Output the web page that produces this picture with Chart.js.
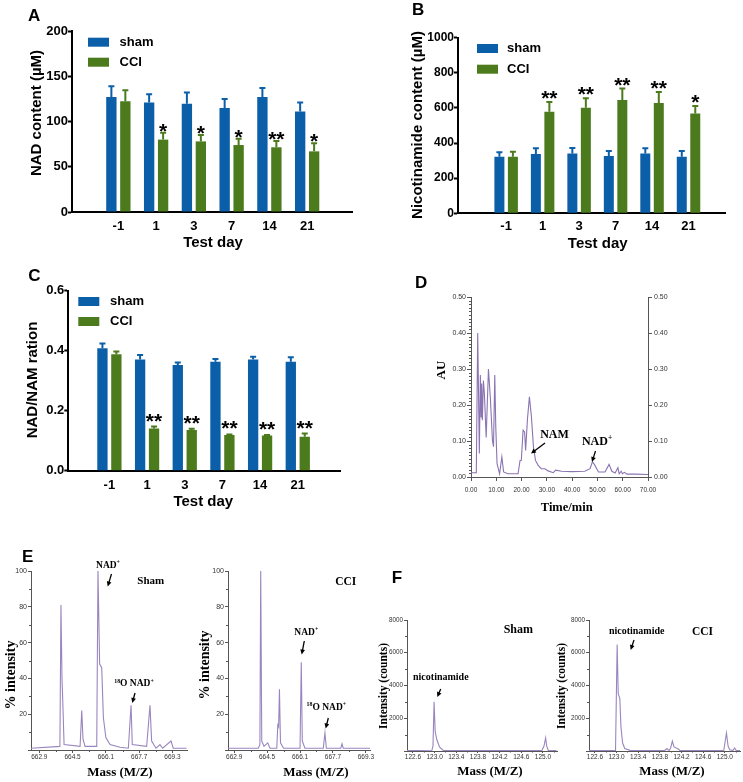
<!DOCTYPE html>
<html>
<head>
<meta charset="utf-8">
<script src="https://cdn.jsdelivr.net/npm/chart.js@4.4.1/dist/chart.umd.min.js"></script>
<style>
  html, body { margin: 0; padding: 0; background: #fff; }
  #page { position: relative; width: 743px; height: 782px; overflow: hidden; background: #fff; }
  #page canvas { position: absolute; left: 0; top: 0; }
</style>
</head>
<body>
<div id="page">
  <canvas id="chartA" width="743" height="782"></canvas>
  <canvas id="chartB" width="743" height="782"></canvas>
  <canvas id="chartC" width="743" height="782"></canvas>
  <canvas id="chartD" width="743" height="782"></canvas>
  <canvas id="chartE1" width="743" height="782"></canvas>
  <canvas id="chartE2" width="743" height="782"></canvas>
  <canvas id="chartF1" width="743" height="782"></canvas>
  <canvas id="chartF2" width="743" height="782"></canvas>
</div>
<script>
// ================= DATA =================

const testDays = ['-1', '1', '3', '7', '14', '21'];

// A: NAD content (uM), mean and error
const nadSham = [127, 121, 119.5, 115, 127, 111];
const nadShamErr = [12, 9, 12.5, 10, 10, 10];
const nadCci = [122.5, 80, 78, 74, 71.5, 67];
const nadCciErr = [12, 7.5, 7, 7, 7, 9];
const nadStars = ['', '*', '*', '*', '**', '*'];

// B: nicotinamide content (uM)
const namSham = [322, 338, 341, 326, 341, 322];
const namShamErr = [25, 32, 31, 29, 29, 33];
const namCci = [322, 579, 601, 645, 628, 569];
const namCciErr = [29, 55, 54, 65, 63, 42];
const namStars = ['', '**', '**', '**', '**', '*'];

// C: NAD/NAM ratio
const ratioSham = [0.408, 0.371, 0.352, 0.363, 0.371, 0.363];
const ratioShamErr = [0.016, 0.015, 0.009, 0.009, 0.009, 0.015];
const ratioCci = [0.388, 0.141, 0.136, 0.119, 0.117, 0.113];
const ratioCciErr = [0.009, 0.006, 0.004, 0.002, 0.002, 0.011];
const ratioStars = ['', '**', '**', '**', '**', '**'];

// D: HPLC chromatogram
const hplcTime = [
  0, 2.1, 2.65, 3.3, 3.7, 4.0, 4.2, 4.5, 4.9, 5.3,
  6.0, 6.9, 7.7, 8.5, 8.9, 9.4, 9.8, 10.3, 11.3, 12.2,
  12.9, 14.6, 18.6, 19.4, 19.9, 20.6, 21.2, 21.6, 22.3, 23.1,
  23.9, 24.7, 25.5, 26.5, 27.8, 29.2, 30.5, 32.5, 33.5, 35.8,
  39.8, 45.0, 47.1, 48.0, 48.8, 50.4, 53.0, 54.6, 55.7, 57.0,
  58.1, 58.6, 59.4, 59.9, 60.7, 61.7, 65.0, 70.0
];
const hplcAU = [
  0.012, 0.012, 0.400, 0.065, 0.283, 0.167, 0.260, 0.158, 0.268, 0.232,
  0.110, 0.300, 0.214, 0.100, 0.084, 0.283, 0.139, 0.037, 0.009, 0.056,
  0.014, 0.009, 0.009, 0.046, 0.046, 0.130, 0.125, 0.074, 0.158, 0.223,
  0.167, 0.084, 0.046, 0.033, 0.023, 0.023, 0.017, 0.012, 0.019, 0.016,
  0.015, 0.016, 0.023, 0.042, 0.035, 0.014, 0.014, 0.035, 0.016, 0.011,
  0.026, 0.009, 0.016, 0.009, 0.013, 0.008, 0.008, 0.007
];
const timeTicks = [0, 10, 20, 30, 40, 50, 60, 70];

// E: NAD+ mass spectra (% intensity)
const msTicks = [662.9, 664.5, 666.1, 667.7, 669.3];
const nadMsShamMz = [
  662.5, 663.89, 663.94, 663.99, 664.02, 664.09, 664.86, 664.94, 665.0, 665.1,
  665.66, 665.72, 665.8, 665.9, 665.98, 666.1, 666.3, 666.78, 667.18, 667.31,
  667.37, 668.06, 668.22, 668.3, 668.51, 668.7, 668.83, 669.23, 669.34, 669.98
];
const nadMsShamInt = [
  1, 2, 81, 40, 30, 3, 2, 22, 6, 2,
  2, 100, 48, 46, 18, 7, 3, 1.5, 1, 25,
  3, 2, 25, 5, 1, 3, 1, 5, 1, 1
];
const nadMsCciMz = [
  662.6, 664.07, 664.15, 664.19, 664.24, 664.35, 664.53, 664.64, 664.97, 665.02,
  665.06, 665.1, 665.15, 665.3, 666.1, 666.16, 666.21, 666.34, 667.23, 667.31,
  667.38, 668.08, 668.14, 668.2, 669.5
];
const nadMsCciInt = [
  1, 1, 3, 100, 5, 2, 4, 1, 1, 14,
  13, 34, 4, 1, 1, 49, 5, 1, 1, 9.5,
  1, 1, 3.5, 1, 1
];

// F: nicotinamide mass spectra (counts)
const namMsTicks = [122.6, 123.0, 123.4, 123.8, 124.2, 124.6, 125.0];
const namMsShamMz = [122.49, 122.95, 122.97, 122.99, 123.01, 123.04, 123.09, 123.16, 124.98, 125.02, 125.05, 125.07, 125.1, 125.25];
const namMsShamInt = [20, 50, 300, 3000, 1200, 700, 250, 30, 30, 300, 800, 300, 30, 20];
const namMsCciMz = [
  122.49, 122.98, 123.01, 123.03, 123.06, 123.08, 123.11, 123.15, 123.25, 123.89,
  123.93, 123.97, 124.0, 124.03, 124.06, 124.14, 124.17, 124.98, 125.03, 125.06,
  125.09, 125.15, 125.18, 125.21, 125.28
];
const namMsCciInt = [
  20, 30, 6500, 3500, 3200, 1500, 500, 150, 40, 30,
  150, 20, 200, 600, 250, 120, 30, 30, 1100, 300,
  80, 30, 180, 30, 20
];

// ================= STYLE =================

const PAGE_W = 743, PAGE_H = 782;
const SANS = '"Liberation Sans", Arial, sans-serif';
const SERIF = '"Liberation Serif", "Times New Roman", serif';
const BLUE = '#0b5ea8';
const GREEN = '#4b7b1c';
const AXIS = '#555';
const TRACE = '#9a86bf';

Chart.defaults.font.family = SANS;
Chart.defaults.color = '#000';

// chart area (page px) -> layout padding, with fixed axis box sizes
function frame(area, yW, xH, rW) {
  return {
    left: area.l - yW,
    top: area.t,
    right: PAGE_W - area.r - (rW || 0),
    bottom: PAGE_H - area.b - xH
  };
}

// ================= PLUGINS =================

function drawRich(ctx, parts, size, family, align) {
  const fontOf = sup => 'bold ' + (sup ? size * 0.62 : size) + 'px ' + family;
  let total = 0;
  parts.forEach(p => { ctx.font = fontOf(p[1]); total += ctx.measureText(p[0]).width; });
  let x = align === 'left' ? 0 : -total / 2;
  ctx.textAlign = 'left';
  ctx.textBaseline = 'alphabetic';
  const base = size * 0.35;
  parts.forEach(p => {
    ctx.font = fontOf(p[1]);
    ctx.fillText(p[0], x, p[1] ? base - size * 0.4 : base);
    x += ctx.measureText(p[0]).width;
  });
}

const errorBarPlugin = {
  id: 'errorBars',
  afterDatasetsDraw(chart, args, opts) {
    const ctx = chart.ctx;
    const yScale = chart.scales.y;
    const starLift = opts.starLift || 0;
    chart.data.datasets.forEach((ds, di) => {
      const meta = chart.getDatasetMeta(di);
      ctx.save();
      ctx.strokeStyle = ds.backgroundColor;
      ctx.lineWidth = 2;
      meta.data.forEach((bar, i) => {
        const top = yScale.getPixelForValue(ds.data[i].y + ds.err[i]);
        ctx.beginPath();
        ctx.moveTo(bar.x, bar.y);
        ctx.lineTo(bar.x, top);
        ctx.moveTo(bar.x - 3, top);
        ctx.lineTo(bar.x + 3, top);
        ctx.stroke();
        if (ds.stars && ds.stars[i]) {
          ctx.fillStyle = '#000';
          ctx.font = 'bold 21px ' + SANS;
          ctx.textAlign = 'center';
          ctx.textBaseline = 'alphabetic';
          ctx.fillText(ds.stars[i], bar.x, top + 5 - starLift);
        }
      });
      ctx.restore();
    });
  }
};

const decorPlugin = {
  id: 'decor',
  afterDraw(chart, args, opts) {
    const ctx = chart.ctx;
    // minor ticks
    (opts.minor || []).forEach(m => {
      const s = chart.scales[m.scale];
      ctx.save();
      ctx.strokeStyle = AXIS;
      ctx.lineWidth = 1;
      ctx.beginPath();
      m.values.forEach(v => {
        const p = Math.round(s.getPixelForValue(v)) + 0.5;
        if (s.isHorizontal()) {
          ctx.moveTo(p, s.top); ctx.lineTo(p, s.top + m.len);
        } else {
          ctx.moveTo(s.right - m.len, p); ctx.lineTo(s.right, p);
        }
      });
      ctx.stroke();
      ctx.restore();
    });
    // legend boxes
    if (opts.legend) {
      const lg = opts.legend;
      chart.data.datasets.forEach((ds, i) => {
        const cy = lg.y + i * lg.dy;
        ctx.fillStyle = ds.backgroundColor;
        ctx.fillRect(lg.x, cy - 4.5, 21, 9);
        ctx.fillStyle = '#000';
        ctx.font = 'bold 13px ' + SANS;
        ctx.textAlign = 'left';
        ctx.textBaseline = 'middle';
        ctx.fillText(ds.label, lg.x + lg.gap, cy);
      });
    }
    // arrows
    (opts.arrows || []).forEach(a => {
      const [x1, y1, x2, y2] = a;
      const ang = Math.atan2(y2 - y1, x2 - x1);
      ctx.save();
      ctx.strokeStyle = '#000';
      ctx.fillStyle = '#000';
      ctx.lineWidth = 1.3;
      ctx.beginPath();
      ctx.moveTo(x1, y1);
      ctx.lineTo(x2 - 3 * Math.cos(ang), y2 - 3 * Math.sin(ang));
      ctx.stroke();
      ctx.beginPath();
      ctx.moveTo(x2, y2);
      ctx.lineTo(x2 - 5.5 * Math.cos(ang - 0.45), y2 - 5.5 * Math.sin(ang - 0.45));
      ctx.lineTo(x2 - 5.5 * Math.cos(ang + 0.45), y2 - 5.5 * Math.sin(ang + 0.45));
      ctx.closePath();
      ctx.fill();
      ctx.restore();
    });
    // texts
    (opts.texts || []).forEach(t => {
      ctx.save();
      ctx.fillStyle = '#000';
      ctx.translate(t.x, t.y);
      if (t.rot) ctx.rotate(t.rot);
      drawRich(ctx, t.parts || [[t.t]], t.size, t.family || SANS, t.align);
      ctx.restore();
    });
  }
};

// ================= BAR PANELS =================

function barPanel(id, o) {
  return new Chart(document.getElementById(id), {
    type: 'bar',
    data: {
      datasets: [
        { label: 'sham', data: o.sham.map((v, i) => ({ x: i, y: v })), backgroundColor: BLUE, err: o.shamErr },
        { label: 'CCI', data: o.cci.map((v, i) => ({ x: i, y: v })), backgroundColor: GREEN, err: o.cciErr, stars: o.stars }
      ]
    },
    options: {
      responsive: false,
      animation: false,
      events: [],
      layout: { padding: frame(o.area, 60, 40) },
      datasets: { bar: { categoryPercentage: 0.74, barPercentage: 0.74 } },
      scales: {
        x: {
          type: 'linear', min: o.xMin, max: o.xMax,
          afterFit: s => { s.height = 40; },
          afterBuildTicks: s => { s.ticks = testDays.map((d, i) => ({ value: i })); },
          grid: { display: false, drawTicks: false },
          border: { color: '#000', width: 2 },
          ticks: {
            callback: v => testDays[v],
            font: { size: 13, weight: 'bold' }, color: '#000',
            padding: o.xPad, autoSkip: false, maxRotation: 0
          }
        },
        y: {
          min: 0, max: o.yMax,
          afterFit: s => { s.width = 60; },
          grid: { drawOnChartArea: false, tickLength: 4, tickWidth: 2, tickColor: '#000' },
          border: { color: '#000', width: 2 },
          ticks: {
            stepSize: o.yStep, callback: o.yFmt,
            font: { size: o.yFont || 13, weight: 'bold' }, color: '#000', padding: 0
          }
        }
      },
      plugins: {
        legend: { display: false },
        tooltip: { enabled: false },
        errorBars: { starLift: o.starLift || 0 },
        decor: { legend: o.legend, texts: o.texts }
      }
    },
    plugins: [errorBarPlugin, decorPlugin]
  });
}

barPanel('chartA', {
  sham: nadSham, shamErr: nadShamErr, cci: nadCci, cciErr: nadCciErr, stars: nadStars,
  area: { l: 72, r: 352, t: 31, b: 212 }, xMin: -0.61, xMax: 5.57, xPad: 7,
  yMax: 200, yStep: 50, yFmt: v => v,
  legend: { x: 88, y: 42.2, dy: 20, gap: 31.5 },
  texts: [
    { t: 'A', x: 28, y: 15.5, size: 17, align: 'left' },
    { t: 'Test day', x: 213, y: 242, size: 15 },
    { t: 'NAD content (\u00b5M)', x: 35.5, y: 113, size: 15, rot: -Math.PI / 2 }
  ]
});

barPanel('chartB', {
  sham: namSham, shamErr: namShamErr, cci: namCci, cciErr: namCciErr, stars: namStars,
  area: { l: 458, r: 725, t: 37.7, b: 213.3 }, xMin: -0.71, xMax: 5.39, xPad: 5.6,
  yMax: 1000, yStep: 200, yFmt: v => v, yFont: 12, starLift: 2,
  legend: { x: 477, y: 48.5, dy: 20.7, gap: 30 },
  texts: [
    { t: 'B', x: 412, y: 9.5, size: 17, align: 'left' },
    { t: 'Test day', x: 597.7, y: 242.7, size: 15 },
    { t: 'Nicotinamide content (\u00b5M)', x: 417, y: 125, size: 15, rot: -Math.PI / 2 }
  ]
});

barPanel('chartC', {
  sham: ratioSham, shamErr: ratioShamErr, cci: ratioCci, cciErr: ratioCciErr, stars: ratioStars,
  area: { l: 68.3, r: 340, t: 290.7, b: 470.7 }, xMin: -0.49, xMax: 5.52, xPad: 6.5,
  yMax: 0.6, yStep: 0.2, yFmt: v => v.toFixed(1), starLift: 4,
  legend: { x: 78.3, y: 301.5, dy: 20, gap: 31.7 },
  texts: [
    { t: 'C', x: 28.3, y: 274.7, size: 17, align: 'left' },
    { t: 'Test day', x: 203.3, y: 500.7, size: 15 },
    { t: 'NAD/NAM ration', x: 31.7, y: 380, size: 15, rot: -Math.PI / 2 }
  ]
});

// ================= TRACE PANELS =================

function tracePanel(id, o) {
  const scales = {
    x: {
      type: 'linear', min: o.xMin, max: o.xMax,
      afterFit: s => { s.height = 30; },
      afterBuildTicks: s => { s.ticks = o.xTicks.filter(v => v >= s.min && v <= s.max).map(v => ({ value: v })); },
      grid: { drawOnChartArea: false, tickLength: o.xTl, tickWidth: 1, tickColor: AXIS },
      border: { color: AXIS, width: 1 },
      ticks: { callback: o.xFmt, font: { size: 6.5 }, color: '#333', padding: o.xPad, autoSkip: false, maxRotation: 0 }
    },
    y: {
      min: 0, max: o.yMax,
      afterFit: s => { s.width = 25; },
      grid: { drawOnChartArea: false, tickLength: o.yTl, tickWidth: 1, tickColor: AXIS },
      border: { color: AXIS, width: 1 },
      ticks: { stepSize: o.yStep, callback: o.yFmt, font: { size: o.yFont || 7 }, color: '#333', padding: 1 }
    }
  };
  if (o.rightAxis) {
    scales.y2 = {
      position: 'right', min: 0, max: o.yMax,
      afterFit: s => { s.width = 25; },
      grid: { drawOnChartArea: false, tickLength: 4, tickWidth: 1, tickColor: AXIS },
      border: { color: AXIS, width: 1 },
      ticks: { stepSize: o.yStep, callback: o.yFmt, font: { size: 7 }, color: '#333', padding: 2 }
    };
  }
  return new Chart(document.getElementById(id), {
    type: 'line',
    data: {
      datasets: [{
        data: o.xs.map((x, i) => ({ x: x, y: o.ys[i] })),
        borderColor: o.color || TRACE, borderWidth: 1.1,
        pointRadius: 0, tension: 0, fill: false
      }]
    },
    options: {
      responsive: false,
      animation: false,
      events: [],
      layout: { padding: frame(o.area, 25, 30, o.rightAxis ? 25 : 0) },
      scales: scales,
      plugins: {
        legend: { display: false },
        tooltip: { enabled: false },
        decor: { minor: o.minor, arrows: o.arrows, texts: o.texts }
      }
    },
    plugins: [decorPlugin]
  });
}

function steps(from, to, step) {
  const out = [];
  for (let v = from; v <= to + 1e-9; v += step) out.push(+v.toFixed(4));
  return out;
}

const NADP = [['NAD'], ['+', 1]];
const O18NADP = [['18', 1], ['O NAD'], ['+', 1]];

tracePanel('chartD', {
  xs: hplcTime, ys: hplcAU, color: '#8a74b2',
  area: { l: 471, r: 648, t: 297, b: 477 }, xMin: 0, xMax: 70,
  xTicks: timeTicks, xFmt: v => v.toFixed(2), xTl: 4, xPad: 5,
  yMax: 0.5, yStep: 0.1, yFmt: v => v.toFixed(2), yTl: 4, rightAxis: true,
  minor: [{ scale: 'y', values: steps(0, 0.5, 0.01), len: 2 }],
  arrows: [[545, 443, 531, 453.5], [595.5, 451, 592, 462]],
  texts: [
    { t: 'D', x: 415, y: 282, size: 17, align: 'left' },
    { t: 'AU', x: 440, y: 370, size: 13, family: SERIF, rot: -Math.PI / 2 },
    { t: 'Time/min', x: 566.7, y: 506.7, size: 12.5, family: SERIF },
    { t: 'NAM', x: 554.5, y: 433.8, size: 12, family: SERIF },
    { parts: NADP, x: 597, y: 440.5, size: 12, family: SERIF }
  ]
});

tracePanel('chartE1', {
  xs: nadMsShamMz, ys: nadMsShamInt,
  area: { l: 31, r: 187, t: 571, b: 750 }, xMin: 662.5, xMax: 670.0,
  xTicks: msTicks, xFmt: v => v.toFixed(1), xTl: 3, xPad: 0,
  yMax: 100, yStep: 20, yFmt: v => (v ? v : ''), yTl: 3,
  minor: [{ scale: 'y', values: steps(10, 90, 20), len: 2 }, { scale: 'x', values: steps(663.7, 669.9, 1.6), len: 2 }],
  arrows: [[111.5, 574, 107.7, 586.5], [135, 693, 132.3, 703]],
  texts: [
    { t: 'E', x: 22, y: 556, size: 17, align: 'left' },
    { t: '% intensity', x: 10, y: 675, size: 14, family: SERIF, rot: -Math.PI / 2 },
    { t: 'Mass (M/Z)', x: 120, y: 771.7, size: 13, family: SERIF },
    { parts: NADP, x: 108, y: 564.5, size: 9.5, family: SERIF },
    { t: 'Sham', x: 150.8, y: 580.5, size: 11, family: SERIF },
    { parts: O18NADP, x: 134, y: 683, size: 9.5, family: SERIF }
  ]
});

tracePanel('chartE2', {
  xs: nadMsCciMz, ys: nadMsCciInt,
  area: { l: 228, r: 370, t: 571, b: 750 }, xMin: 662.6, xMax: 669.5,
  xTicks: msTicks, xFmt: v => v.toFixed(1), xTl: 3, xPad: 0,
  yMax: 100, yStep: 20, yFmt: v => (v ? v : ''), yTl: 3,
  minor: [{ scale: 'y', values: steps(10, 90, 20), len: 2 }, { scale: 'x', values: steps(663.7, 669.4, 1.6), len: 2 }],
  arrows: [[304.3, 641, 301.7, 654.5], [328.3, 718, 325.7, 728.5]],
  texts: [
    { t: '% intensity', x: 204, y: 665, size: 14, family: SERIF, rot: -Math.PI / 2 },
    { t: 'Mass (M/Z)', x: 316, y: 771, size: 13, family: SERIF },
    { t: 'CCI', x: 345.8, y: 580.5, size: 11.5, family: SERIF },
    { parts: NADP, x: 306.3, y: 631.7, size: 9.5, family: SERIF },
    { parts: O18NADP, x: 326.3, y: 706.3, size: 9.5, family: SERIF }
  ]
});

tracePanel('chartF1', {
  xs: namMsShamMz, ys: namMsShamInt,
  area: { l: 407, r: 557, t: 620, b: 751 }, xMin: 122.49, xMax: 125.26,
  xTicks: namMsTicks, xFmt: v => v.toFixed(1), xTl: 2, xPad: 0,
  yMax: 8000, yStep: 2000, yFmt: v => (v ? v : ''), yTl: 3, yFont: 6.3,
  minor: [{ scale: 'y', values: steps(1000, 7000, 2000), len: 2 }, { scale: 'x', values: steps(122.8, 125.2, 0.4), len: 1.5 }],
  arrows: [[440.7, 689, 437.3, 697]],
  texts: [
    { t: 'F', x: 391.7, y: 576.7, size: 17, align: 'left' },
    { t: 'Intensity (counts)', x: 383, y: 686, size: 11.5, family: SERIF, rot: -Math.PI / 2 },
    { t: 'Mass (M/Z)', x: 490, y: 770, size: 13, family: SERIF },
    { t: 'Sham', x: 518.3, y: 628.3, size: 12, family: SERIF },
    { t: 'nicotinamide', x: 440.8, y: 676.7, size: 10, family: SERIF }
  ]
});

tracePanel('chartF2', {
  xs: namMsCciMz, ys: namMsCciInt,
  area: { l: 589, r: 740, t: 620, b: 751 }, xMin: 122.49, xMax: 125.28,
  xTicks: namMsTicks, xFmt: v => v.toFixed(1), xTl: 2, xPad: 0,
  yMax: 8000, yStep: 2000, yFmt: v => (v ? v : ''), yTl: 3, yFont: 6.3,
  minor: [{ scale: 'y', values: steps(1000, 7000, 2000), len: 2 }, { scale: 'x', values: steps(122.8, 125.2, 0.4), len: 1.5 }],
  arrows: [[634, 640, 630.7, 650]],
  texts: [
    { t: 'Intensity (counts)', x: 561, y: 686, size: 11.5, family: SERIF, rot: -Math.PI / 2 },
    { t: 'Mass (M/Z)', x: 672, y: 770, size: 13, family: SERIF },
    { t: 'nicotinamide', x: 636.7, y: 630.7, size: 10, family: SERIF },
    { t: 'CCI', x: 702.5, y: 630.5, size: 11.5, family: SERIF }
  ]
});
</script>
</body>
</html>
